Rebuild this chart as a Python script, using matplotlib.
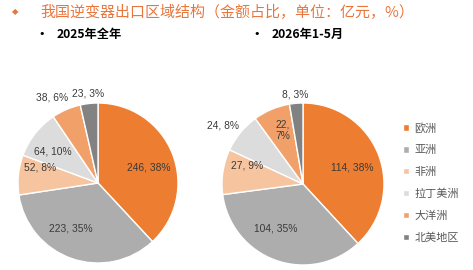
import matplotlib
matplotlib.use("Agg")
import matplotlib.pyplot as plt
import numpy as np

regions = ["欧洲", "亚洲", "非洲", "拉丁美洲", "大洋洲", "北美地区"]
values_2025 = [246, 223, 52, 64, 38, 23]
pcts_2025 = [38, 35, 8, 10, 6, 3]
values_2026 = [114, 104, 27, 24, 22, 8]
pcts_2026 = [38, 35, 9, 8, 7, 3]
subtitles = ["2025年全年", "2026年1-5月"]
title = "我国逆变器出口区域结构（金额占比，单位：亿元，%）"

colors = ["#ED7D31", "#ADADAD", "#F7C4A0", "#DCDCDC", "#F2A06A", "#828282"]
# label placement (radius fraction, angle offset in deg) per slice
lab_r_2025 = [0.66, 0.66, 0.75, 0.69, 1.22, 1.13]
lab_r_2026 = [0.64, 0.64, 0.73, 1.22, 0.71, 1.11]
lab_da_2025 = [-4, -12, -9, 4, 5, 0]
lab_da_2026 = [-3, -12, -9, 3, -2, 0]

plt.rcParams['font.family'] = ['Noto Sans CJK SC', 'DejaVu Sans']

W, H = 473, 270
fig = plt.figure(figsize=(W / 100, H / 100), dpi=100)

def add_pie(cx, cy, r, vals, pcts, lab_r, lab_da, texts_override=None):
    ax = fig.add_axes([(cx - r) / W, (H - cy - r) / H, 2 * r / W, 2 * r / H])
    wedges, _ = ax.pie(vals, colors=colors, startangle=90, counterclock=False,
                       wedgeprops=dict(edgecolor="white", linewidth=1.0), radius=1)
    ax.set_xlim(-1, 1)
    ax.set_ylim(-1, 1)
    for i, w in enumerate(wedges):
        mid = (w.theta1 + w.theta2) / 2 + lab_da[i]
        rr = lab_r[i]
        x, y = rr * np.cos(np.radians(mid)), rr * np.sin(np.radians(mid))
        txt = f"{vals[i]}, {pcts[i]}%"
        if texts_override and i in texts_override:
            txt = texts_override[i]
        ax.text(x, y, txt, ha="center", va="center", fontsize=7.4,
                color="#3A3A3A", family=["Liberation Sans", "DejaVu Sans"],
                linespacing=1.1)
    return ax, wedges

ax1, wedges = add_pie(98, 183, 80, values_2025, pcts_2025, lab_r_2025, lab_da_2025)
ax2, _ = add_pie(303, 184, 81, values_2026, pcts_2026, lab_r_2026, lab_da_2026,
                 texts_override={4: "22,\n7%"})

# title
fig.text(15 / W, 1 - 12 / H, "◆", color="#E8763D", fontsize=6, ha="center", va="center",
         family=["DejaVu Sans"])
fig.text(40 / W, 1 - 12.5 / H, title, color="#E8763D", fontsize=10.8, ha="left", va="center")

# subtitles
for bx, s in zip([42, 257], subtitles):
    fig.text(bx / W, 1 - 34 / H, "•", fontsize=8, ha="center", va="center", color="black",
             family=["DejaVu Sans"])
    fig.text((bx + 15) / W, 1 - 34.5 / H, s, fontsize=8.8, fontweight="bold",
             ha="left", va="center", color="black")

leg = fig.legend(wedges, regions, loc="upper left", bbox_to_anchor=(403 / W, 1 - 122.5 / H),
                 frameon=False, fontsize=8, handlelength=0.55, handleheight=0.55,
                 handletextpad=0.45, labelspacing=1.05, borderaxespad=0, borderpad=0)
for t in leg.get_texts():
    t.set_color("#595959")

fig.savefig("out.png", dpi=100)
